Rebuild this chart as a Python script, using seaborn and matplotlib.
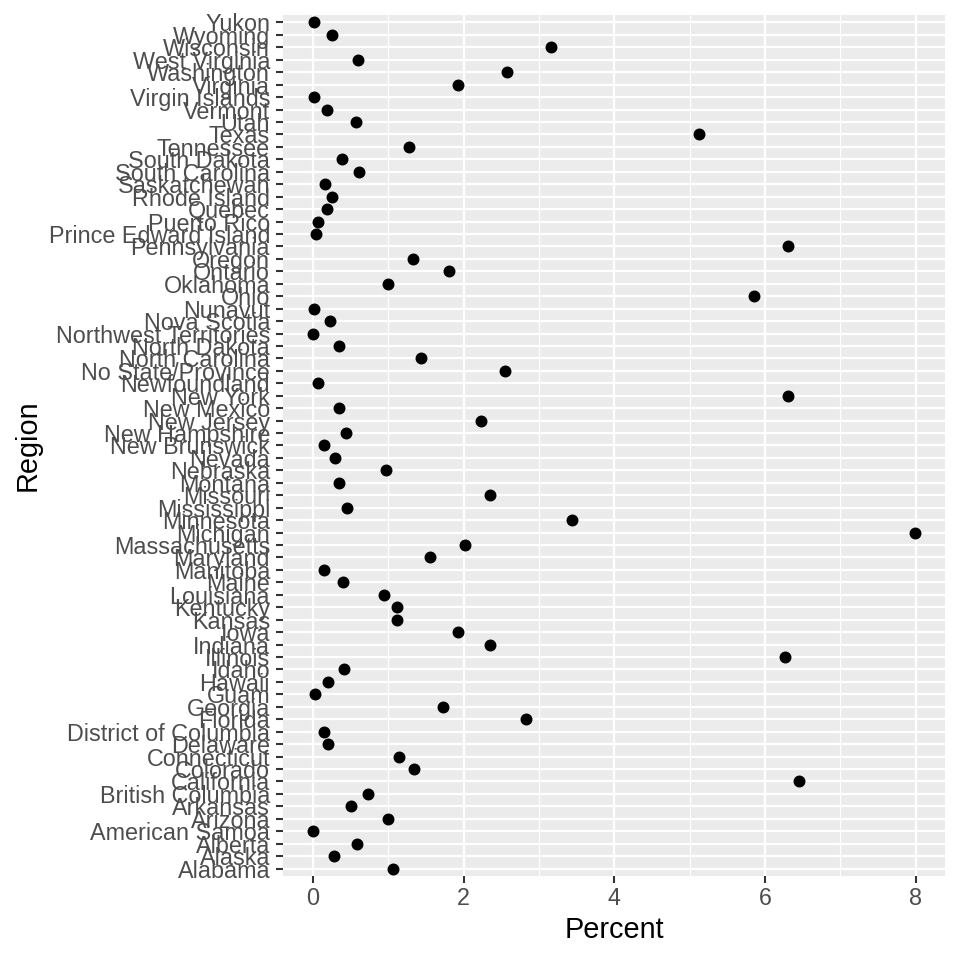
import matplotlib as mpl
import matplotlib.pyplot as plt
from matplotlib.ticker import MultipleLocator
import seaborn as sns
import pandas as pd

# regions in alphabetical order (bottom of the chart first)
regions = [
    "Alabama", "Alaska", "Alberta", "American Samoa", "Arizona", "Arkansas",
    "British Columbia", "California", "Colorado", "Connecticut", "Delaware",
    "District of Columbia", "Florida", "Georgia", "Guam", "Hawaii", "Idaho",
    "Illinois", "Indiana", "Iowa", "Kansas", "Kentucky", "Louisiana", "Maine",
    "Manitoba", "Maryland", "Massachusetts", "Michigan", "Minnesota",
    "Mississippi", "Missouri", "Montana", "Nebraska", "Nevada", "New Brunswick",
    "New Hampshire", "New Jersey", "New Mexico", "New York", "Newfoundland",
    "No State/Province", "North Carolina", "North Dakota",
    "Northwest Territories", "Nova Scotia", "Nunavut", "Ohio", "Oklahoma",
    "Ontario", "Oregon", "Pennsylvania", "Prince Edward Island", "Puerto Rico",
    "Quebec", "Rhode Island", "Saskatchewan", "South Carolina", "South Dakota",
    "Tennessee", "Texas", "Utah", "Vermont", "Virgin Islands", "Virginia",
    "Washington", "West Virginia", "Wisconsin", "Wyoming", "Yukon",
]
percent = [
    1.06, 0.28, 0.58, 0.00, 1.00, 0.50,
    0.73, 6.45, 1.34, 1.14, 0.20,
    0.14, 2.82, 1.72, 0.02, 0.20, 0.41,
    6.26, 2.35, 1.93, 1.12, 1.12, 0.94, 0.39,
    0.15, 1.55, 2.02, 7.99, 3.44,
    0.45, 2.35, 0.35, 0.97, 0.29, 0.14,
    0.43, 2.23, 0.35, 6.30, 0.06,
    2.55, 1.43, 0.35,
    0.00, 0.23, 0.01, 5.86, 1.00,
    1.81, 1.33, 6.30, 0.04, 0.06,
    0.19, 0.25, 0.16, 0.61, 0.38,
    1.27, 5.13, 0.57, 0.19, 0.01, 1.92,
    2.57, 0.59, 3.16, 0.25, 0.01,
]

sns.set_theme(style="darkgrid", rc={"axes.facecolor": "#EBEBEB",
                                    "grid.color": "white"})
plt.rcParams['font.family'] = ['Liberation Sans', 'DejaVu Sans']

df = pd.DataFrame({"Region": regions, "Percent": percent})

fig, ax = plt.subplots(figsize=(9.6, 9.6), dpi=100)
plt.subplots_adjust(left=0.2948, right=0.9844, bottom=0.0875, top=0.9844)

sns.stripplot(data=df, x="Percent", y="Region", order=regions[::-1],
              jitter=False, color="black", size=8.6, linewidth=0, ax=ax,
              zorder=3)

ax.set_axisbelow(True)
ax.set_xlim(-0.4, 8.39)
ax.set_ylim(len(regions) - 1 + 0.6, -0.6)
ax.xaxis.set_major_locator(MultipleLocator(2))
ax.xaxis.set_minor_locator(MultipleLocator(1))
ax.grid(which="major", color="white", lw=1.6)
ax.grid(which="minor", axis="x", color="white", lw=0.8)

for s in ax.spines.values():
    s.set_visible(False)

ax.tick_params(axis="both", which="major", length=5, width=1.5,
               color="#333333", labelcolor="#4D4D4D", labelsize=16.8,
               left=True, bottom=True)
ax.tick_params(axis="y", pad=4.3)
ax.tick_params(axis="x", pad=3)
ax.tick_params(which="minor", length=0)

ax.set_xlabel("Percent", fontsize=20.8, color="black")
ax.set_ylabel("Region", fontsize=20.8, color="black")
ax.xaxis.set_label_coords(0.5, -0.046)
ax.yaxis.set_label_coords(-0.364, 0.5)

plt.savefig("out.png", dpi=100)
